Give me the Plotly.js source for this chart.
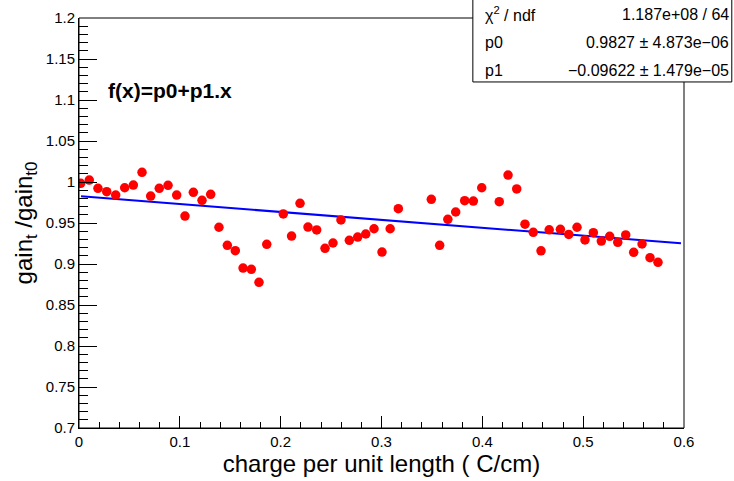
<!DOCTYPE html>
<html>
<head>
<meta charset="utf-8">
<script src="https://cdn.plot.ly/plotly-3.0.1.min.js"></script>
<style>
  html, body { margin: 0; padding: 0; background: #ffffff; }
  #chart { width: 734px; height: 481px; }
</style>
</head>
<body>
<div id="chart"></div>
<script>
// Measured gain ratio versus accumulated charge per unit length
const charge = [
  0.0017, 0.0102, 0.0188, 0.0275, 0.0364, 0.0453, 0.0539, 0.0625, 0.0711, 0.0796,
  0.0883, 0.0969, 0.1051, 0.1134, 0.1220, 0.1306, 0.1388, 0.1471, 0.1550, 0.1627,
  0.1709, 0.1785, 0.1862, 0.2026, 0.2108, 0.2192, 0.2271, 0.2357, 0.2440, 0.2519,
  0.2598, 0.2681, 0.2764, 0.2844, 0.2926, 0.3005, 0.3086, 0.3167, 0.3494, 0.3577,
  0.3658, 0.3736, 0.3825, 0.3911, 0.3994, 0.4168, 0.4255, 0.4341, 0.4423, 0.4505,
  0.4582, 0.4663, 0.4774, 0.4857, 0.4939, 0.5018, 0.5101, 0.5180, 0.5263, 0.5343,
  0.5422, 0.5501, 0.5584, 0.5663, 0.5742
];
const gainRatio = [
  0.9984, 1.0024, 0.9923, 0.9882, 0.9841, 0.9930, 0.9963, 1.0118, 0.9829, 0.9923,
  0.9960, 0.9841, 0.9585, 0.9874, 0.9777, 0.9850, 0.9448, 0.9228, 0.9162, 0.8951,
  0.8935, 0.8777, 0.9240, 0.9610, 0.9341, 0.9740, 0.9451, 0.9415, 0.9191, 0.9256,
  0.9537, 0.9289, 0.9329, 0.9366, 0.9430, 0.9146, 0.9430, 0.9674, 0.9789, 0.9228,
  0.9545, 0.9634, 0.9772, 0.9768, 0.9930, 0.9760, 1.0085, 0.9915, 0.9485, 0.9387,
  0.9161, 0.9417, 0.9423, 0.9360, 0.9448, 0.9293, 0.9382, 0.9280, 0.9338, 0.9265,
  0.9354, 0.9143, 0.9244, 0.9077, 0.9021
];

// Linear fit f(x) = p0 + p1*x
const p0 = 0.9827;
const p1 = -0.09622;
const fitRange = [0.002, 0.597];

// Fit statistics box rows
const statNames = ['\u03C7<sup>2</sup> / ndf', 'p0', 'p1'];
const statValues = ['1.187e+08 / 64', '0.9827 \u00B1 4.873e\u221206', '\u22120.09622 \u00B1 1.479e\u221205'];

const fitY = fitRange.map(x => p0 + p1 * x);

const FONT = 'Liberation Sans, Arial, Helvetica, sans-serif';

const traces = [
  {
    x: fitRange, y: fitY, type: 'scatter', mode: 'lines',
    line: { color: '#0000ff', width: 2 }, hoverinfo: 'skip'
  },
  {
    x: charge, y: gainRatio, type: 'scatter', mode: 'markers',
    marker: { color: '#ff0000', size: 9.5, line: { width: 0 } }
  }
];

// Stats box geometry in paper coordinates
const box = { x0: 0.651, x1: 1.079, y0: 0.844, y1: 1.05 };
const rowY = [1.009, 0.940, 0.873];

const annotations = [
  {
    text: '<b>f(x)=p0+p1.x</b>', xref: 'paper', yref: 'paper',
    x: 0.044, y: 0.824, xanchor: 'left', yanchor: 'middle', showarrow: false,
    font: { family: FONT, size: 21, color: '#000' }
  }
];
statNames.forEach((t, i) => annotations.push({
  text: t, xref: 'paper', yref: 'paper', x: 0.667, y: rowY[i],
  xanchor: 'left', yanchor: 'middle', showarrow: false,
  font: { family: FONT, size: 16, color: '#000' }
}));
statValues.forEach((t, i) => annotations.push({
  text: t, xref: 'paper', yref: 'paper', x: 1.077, y: rowY[i],
  xanchor: 'right', yanchor: 'middle', showarrow: false,
  font: { family: FONT, size: 16, color: '#000' }
}));

const layout = {
  width: 734, height: 481,
  margin: { l: 79, r: 50, t: 18, b: 53 },
  paper_bgcolor: '#ffffff', plot_bgcolor: '#ffffff',
  showlegend: false,
  font: { family: FONT, size: 15, color: '#000' },
  xaxis: {
    range: [0, 0.6], dtick: 0.1, tick0: 0,
    ticks: 'inside', ticklen: 12, tickcolor: '#000', tickwidth: 1,
    minor: { dtick: 0.02, ticks: 'inside', ticklen: 6, tickcolor: '#000', tickwidth: 1 },
    showgrid: false, zeroline: false, showline: true, linecolor: '#000', linewidth: 1,
    tickfont: { family: FONT, size: 15, color: '#000' },
    title: { text: 'charge per unit length ( C/cm)', font: { family: FONT, size: 24, color: '#000' }, standoff: 6 },
    automargin: false
  },
  yaxis: {
    range: [0.7, 1.2], dtick: 0.05, tick0: 0.7,
    ticks: 'inside', ticklen: 18, tickcolor: '#000', tickwidth: 1,
    minor: { dtick: 0.01, ticks: 'inside', ticklen: 9, tickcolor: '#000', tickwidth: 1 },
    showgrid: false, zeroline: false, showline: true, linecolor: '#000', linewidth: 1,
    tickfont: { family: FONT, size: 15, color: '#000' },
    title: { text: 'gain<sub>t</sub> /gain<sub>t0</sub>', font: { family: FONT, size: 24, color: '#000' }, standoff: 6 },
    automargin: false
  },
  shapes: [
    { type: 'rect', xref: 'paper', yref: 'paper', x0: 0, x1: 1, y0: 0, y1: 1,
      line: { color: '#000', width: 1 }, fillcolor: 'rgba(0,0,0,0)', layer: 'above' },
    { type: 'rect', xref: 'paper', yref: 'paper', x0: box.x0, x1: box.x1, y0: box.y0, y1: box.y1,
      line: { color: '#000', width: 1 }, fillcolor: '#ffffff', layer: 'above' }
  ],
  annotations: annotations
};

Plotly.newPlot('chart', traces, layout, { displayModeBar: false, staticPlot: true });
</script>
</body>
</html>
